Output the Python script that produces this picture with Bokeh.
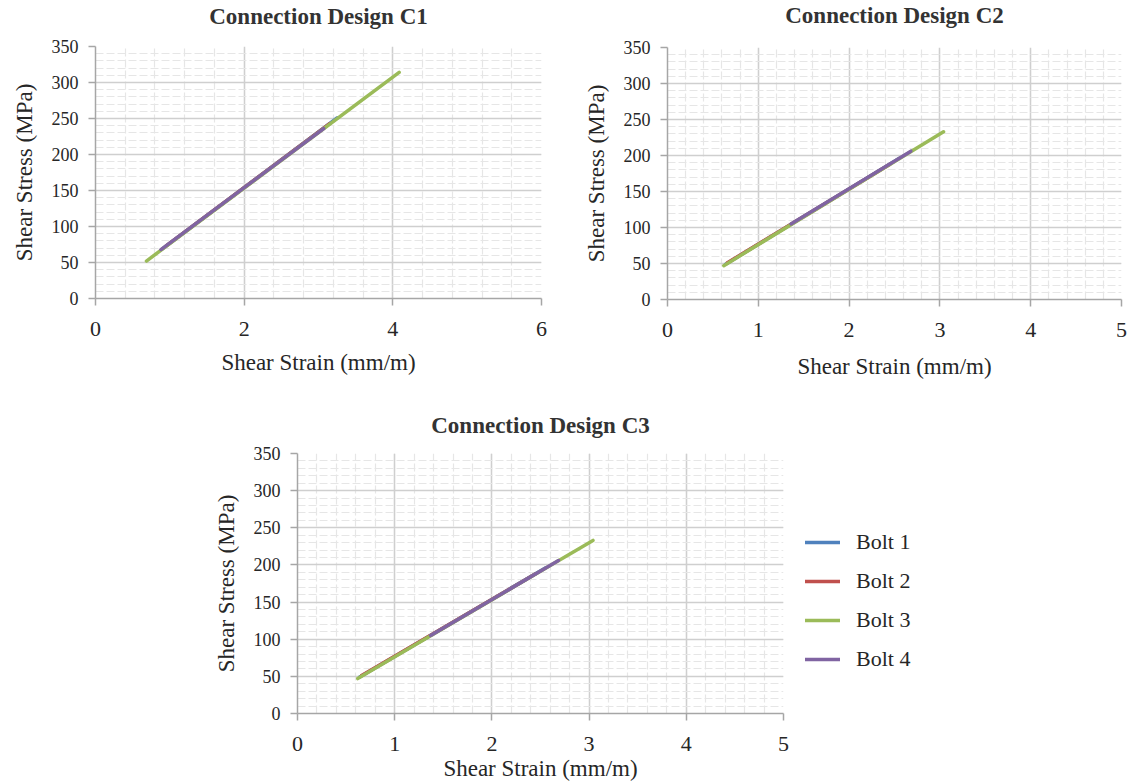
from bokeh.plotting import figure
from bokeh.layouts import column, row, Spacer
from bokeh.models import Range1d, SingleIntervalTicker, Legend, LegendItem
from bokeh.embed import file_html
from bokeh.resources import INLINE

# ---------------- data ----------------
bolts = ["Bolt 1", "Bolt 2", "Bolt 3", "Bolt 4"]
colors = ["#4F81BD", "#C0504D", "#9BBB59", "#8064A2"]

# Connection Design C1 : shear strain (mm/m), shear stress (MPa)
c1_b1_x = [0.90, 3.25]
c1_b1_y = [69, 251]
c1_b2_x = [0.95, 3.15]
c1_b2_y = [73, 243]
c1_b3_x = [0.685, 4.085]
c1_b3_y = [52, 314]
c1_b4_x = [0.88, 3.07]
c1_b4_y = [68, 236]

# Connection Design C2
c2_b1_x = [0.64, 2.55]
c2_b1_y = [49, 196]
c2_b2_x = [0.66, 2.45]
c2_b2_y = [51, 188]
c2_b3_x = [0.62, 3.04]
c2_b3_y = [47, 233]
c2_b4_x = [1.36, 2.68]
c2_b4_y = [105, 206]

# Connection Design C3
c3_b1_x = [0.64, 2.55]
c3_b1_y = [49, 196]
c3_b2_x = [0.66, 2.45]
c3_b2_y = [51, 188]
c3_b3_x = [0.62, 3.04]
c3_b3_y = [47, 233]
c3_b4_x = [1.37, 2.685]
c3_b4_y = [105, 206]

titles = ["Connection Design C1", "Connection Design C2", "Connection Design C3"]
x_max = [6, 5, 5]
x_step = [2, 1, 1]
x_label = "Shear Strain (mm/m)"
y_label = "Shear Stress (MPa)"

FONT = "Liberation Serif"
TXT = "#262626"


def style_title(t, standoff):
    t.align = "center"
    t.text_font = FONT
    t.text_font_size = "23px"
    t.text_font_style = "bold"
    t.text_color = "#333333"
    t.standoff = standoff


def make_fig(idx, width, height, bl, br, bt, bb, title_standoff, xlab_standoff, ylab_standoff,
             with_title=True):
    p = figure(width=width, height=height, output_backend="svg", toolbar_location=None,
               x_range=Range1d(0, x_max[idx]), y_range=Range1d(0, 350),
               min_border_left=bl, min_border_right=br, min_border_top=bt, min_border_bottom=bb,
               title=titles[idx] if with_title else None)
    if with_title:
        style_title(p.title, title_standoff)
    p.outline_line_color = None
    p.background_fill_color = "white"
    p.border_fill_color = "white"

    p.xaxis.ticker = SingleIntervalTicker(interval=x_step[idx], num_minor_ticks=5)
    p.yaxis.ticker = SingleIntervalTicker(interval=50, num_minor_ticks=5)
    for ax in (p.xaxis[0], p.yaxis[0]):
        ax.axis_line_color = "#A6A6A6"
        ax.axis_line_width = 1.5
        ax.major_tick_line_color = "#A6A6A6"
        ax.major_tick_line_width = 1.5
        ax.major_tick_in = 0
        ax.major_tick_out = 7
        ax.minor_tick_line_color = None
        ax.major_label_text_font = FONT
        ax.major_label_text_color = TXT
        ax.axis_label_text_font = FONT
        ax.axis_label_text_font_style = "normal"
        ax.axis_label_text_color = TXT
        ax.axis_label_text_font_size = "23px"
    p.xaxis.major_label_text_font_size = "22px"
    p.yaxis.major_label_text_font_size = "18px"
    p.xaxis.major_label_standoff = 16
    p.yaxis.major_label_standoff = 10
    p.xaxis.axis_label = x_label
    p.yaxis.axis_label = y_label
    p.xaxis.axis_label_standoff = xlab_standoff
    p.yaxis.axis_label_standoff = ylab_standoff

    for g in (p.xgrid[0], p.ygrid[0]):
        g.grid_line_color = "#CFCFCF"
        g.grid_line_width = 1.5
        g.minor_grid_line_color = "#E6E6E6"
        g.minor_grid_line_width = 1.2
        g.minor_grid_line_dash = "8 3"
    return p


def title_strip(text, width, height, standoff):
    t = figure(width=width, height=height, output_backend="svg", toolbar_location=None,
               x_range=Range1d(0, 1), y_range=Range1d(0, 1), title=text,
               min_border_left=0, min_border_right=0, min_border_top=0, min_border_bottom=0)
    style_title(t.title, standoff)
    t.axis.visible = False
    t.grid.visible = False
    t.outline_line_color = None
    return t


def add_lines(p, xs, ys, visible=True):
    rs = []
    for x, y, c in zip(xs, ys, colors):
        rs.append(p.line(x, y, line_color=c, line_width=3.5, line_cap="round", visible=visible))
    return rs


t1 = title_strip(titles[0], 560, 37, 3)
p1 = make_fig(0, 560, 346, 95, 19, 9, 85, 0, 11, 12, with_title=False)
add_lines(p1, [c1_b1_x, c1_b2_x, c1_b3_x, c1_b4_x], [c1_b1_y, c1_b2_y, c1_b3_y, c1_b4_y])

t2 = title_strip(titles[1], 569, 36, 0)
p2 = make_fig(1, 569, 347, 107, 8, 11, 84, 0, 14, 12, with_title=False)
add_lines(p2, [c2_b1_x, c2_b2_x, c2_b3_x, c2_b4_x], [c2_b1_y, c2_b2_y, c2_b3_y, c2_b4_y])

p3 = make_fig(2, 593, 400, 97, 10, 70, 70, 31, 2, 12)
c3_xs = [c3_b1_x, c3_b2_x, c3_b3_x, c3_b4_x]
c3_ys = [c3_b1_y, c3_b2_y, c3_b3_y, c3_b4_y]
add_lines(p3, c3_xs, c3_ys)

# legend panel to the right of C3 (same C3 series, kept hidden, only their legend entries shown)
pl = figure(width=135, height=400, output_backend="svg", toolbar_location=None,
            x_range=Range1d(0, 5), y_range=Range1d(0, 350),
            min_border_left=0, min_border_right=0, min_border_top=0, min_border_bottom=0)
pl.axis.visible = False
pl.grid.visible = False
pl.outline_line_color = None
rl = add_lines(pl, c3_xs, c3_ys, visible=False)

legend = Legend(items=[LegendItem(label=b, renderers=[r]) for b, r in zip(bolts, rl)],
                location=(12, 41))
legend.label_text_font = FONT
legend.label_text_font_size = "22px"
legend.label_text_color = TXT
legend.glyph_width = 35
legend.glyph_height = 24
legend.label_height = 24
legend.label_standoff = 16
legend.spacing = 13
legend.margin = 0
legend.padding = 10
legend.border_line_color = None
legend.background_fill_alpha = 0
legend.inactive_fill_alpha = 0
legend.click_policy = "none"
pl.add_layout(legend, "center")

layout = column(row(column(t1, p1), column(t2, p2)),
                row(Spacer(width=200, height=400), p3, pl))

with open("out.html", "w") as f:
    f.write(file_html(layout, INLINE))
